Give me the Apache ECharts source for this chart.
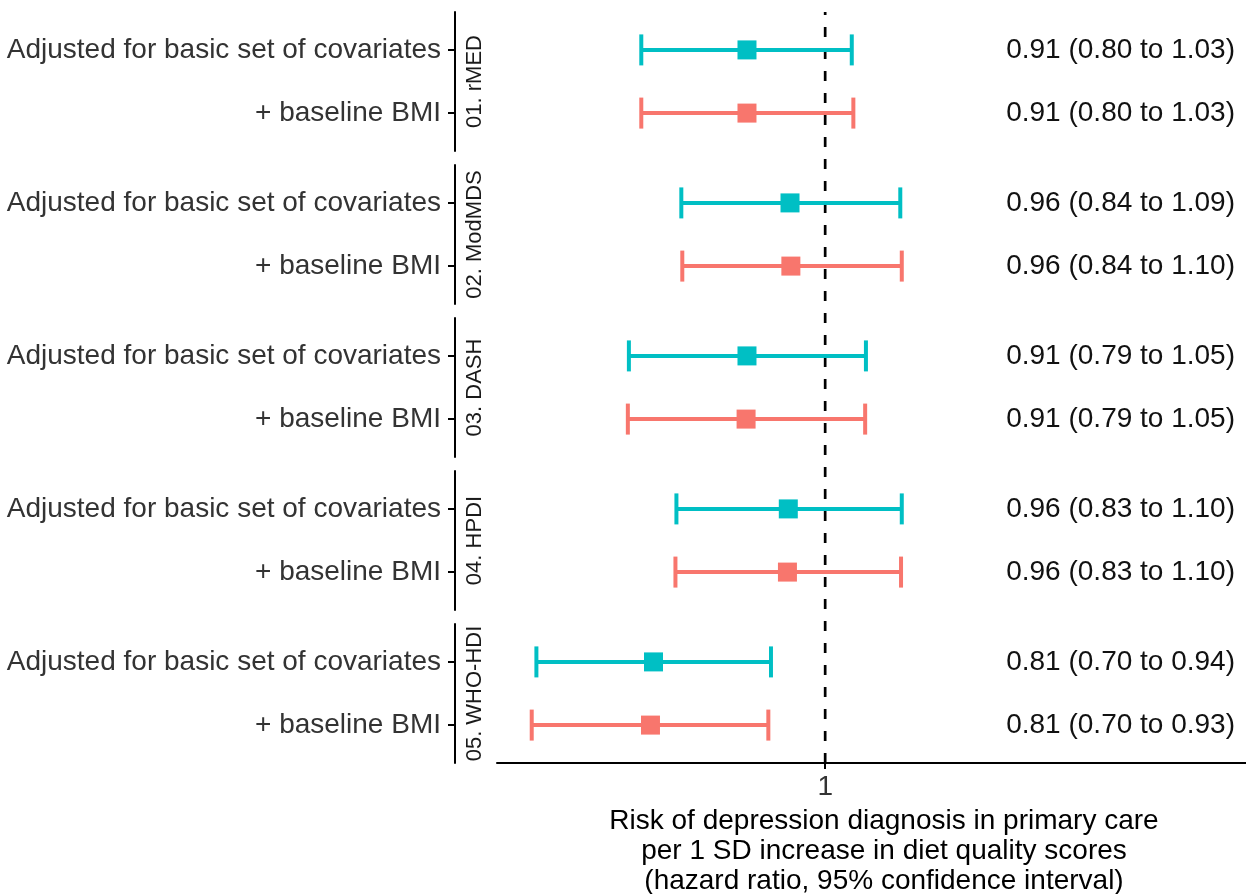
<!DOCTYPE html>
<html>
<head>
<meta charset="utf-8">
<script src="https://cdn.jsdelivr.net/npm/echarts@6/dist/echarts.min.js"></script>
<style>html,body{margin:0;padding:0;background:#fff;}#chart{width:1246px;height:894px;}</style>
</head>
<body>
<div id="chart"></div>
<script>
const facets = ['01. rMED', '02. ModMDS', '03. DASH', '04. HPDI', '05. WHO-HDI'];
const rowLabels = ['Adjusted for basic set of covariates', '+ baseline BMI'];
const hrAdjusted = [0.909, 0.958, 0.909, 0.956, 0.811];
const loAdjusted = [0.799, 0.839, 0.787, 0.834, 0.703];
const hiAdjusted = [1.033, 1.096, 1.051, 1.098, 0.936];
const hrBmi = [0.909, 0.959, 0.908, 0.955, 0.808];
const loBmi = [0.799, 0.840, 0.786, 0.833, 0.699];
const hiBmi = [1.035, 1.098, 1.050, 1.097, 0.933];
const textAdjusted = ['0.91 (0.80 to 1.03)', '0.96 (0.84 to 1.09)', '0.91 (0.79 to 1.05)', '0.96 (0.83 to 1.10)', '0.81 (0.70 to 0.94)'];
const textBmi = ['0.91 (0.80 to 1.03)', '0.96 (0.84 to 1.10)', '0.91 (0.79 to 1.05)', '0.96 (0.83 to 1.10)', '0.81 (0.70 to 0.93)'];
const xTicks = [1];
const refValue = 1;
const xTitle = 'Risk of depression diagnosis in primary care\nper 1 SD increase in diet quality scores\n(hazard ratio, 95% confidence interval)';

const COLORS = ['#00BFC4', '#F8766D'];
const FONT = 'Liberation Sans, Arial, sans-serif';
const XMIN = 0.67, XMAX = 1.723;
const GRID_LEFT = 497, GRID_WIDTH = 774, TOP0 = 12, STEP = 153, H = 139;

const chart = echarts.init(document.getElementById('chart'), null, {renderer: 'canvas'});

const grids = [], xAxes = [], yAxes = [], series = [];
facets.forEach((f, i) => {
  const last = i === facets.length - 1;
  grids.push({left: GRID_LEFT, top: TOP0 + STEP * i, width: GRID_WIDTH, height: H, containLabel: false, outerBoundsMode: 'none'});
  xAxes.push({
    gridIndex: i, type: 'log', logBase: 10, min: XMIN, max: XMAX,
    axisLine: {show: last, onZero: false, lineStyle: {color: '#000', width: 2}},
    axisTick: {show: last, customValues: xTicks, length: 6, lineStyle: {color: '#000', width: 2}},
    axisLabel: {show: last, customValues: xTicks, formatter: v => String(v), color: '#333', fontSize: 28, fontFamily: FONT, margin: 10},
    splitLine: {show: false},
    name: last ? xTitle : '', nameLocation: 'middle', nameGap: 43,
    nameTextStyle: {color: '#000', fontSize: 28, fontFamily: FONT, lineHeight: 30, align: 'center', verticalAlign: 'top'}
  });
  const base = yAxes.length;
  yAxes.push({
    gridIndex: i, type: 'value', min: -0.6, max: 1.6, inverse: true, position: 'left', offset: 42,
    axisLine: {show: true, onZero: false, lineStyle: {color: '#000', width: 2}},
    axisTick: {show: true, customValues: [0, 1], length: 7, lineStyle: {color: '#000', width: 2}},
    axisLabel: {customValues: [0, 1], formatter: v => rowLabels[v], color: '#333', fontSize: 28, fontFamily: FONT, margin: 14},
    splitLine: {show: false}
  });
  yAxes.push({
    gridIndex: i, type: 'value', min: -0.6, max: 1.6, inverse: true, position: 'right',
    axisLine: {show: false}, axisTick: {show: false}, splitLine: {show: false},
    axisLabel: {inside: true, align: 'right', margin: 36, customValues: [0, 1],
      formatter: v => (v === 0 ? textAdjusted[i] : textBmi[i]), color: '#111', fontSize: 28, fontFamily: FONT}
  });
  // facet strip label
  yAxes.push({
    gridIndex: i, type: 'value', min: -0.6, max: 1.6, inverse: true, position: 'left', offset: 0,
    axisLine: {show: false, onZero: false}, axisTick: {show: false}, axisLabel: {show: false}, splitLine: {show: false},
    name: f, nameLocation: 'middle', nameRotate: 90, nameGap: 11,
    nameTextStyle: {color: '#1a1a1a', fontSize: 22, fontFamily: FONT}
  });
  series.push({
    type: 'custom', xAxisIndex: i, yAxisIndex: base, silent: true, z: 3,
    data: [[loAdjusted[i], hiAdjusted[i], hrAdjusted[i], 0], [loBmi[i], hiBmi[i], hrBmi[i], 1]],
    renderItem: (params, api) => {
      const row = api.value(3);
      const p0 = api.coord([api.value(0), row]);
      const p1 = api.coord([api.value(1), row]);
      const pm = api.coord([api.value(2), row]);
      const c = COLORS[row];
      const cap = 15.5, sq = 19;
      const ls = {stroke: c, lineWidth: 4};
      return {type: 'group', children: [
        {type: 'line', shape: {x1: p0[0], y1: p0[1], x2: p1[0], y2: p1[1]}, style: ls},
        {type: 'line', shape: {x1: p0[0], y1: p0[1] - cap, x2: p0[0], y2: p0[1] + cap}, style: ls},
        {type: 'line', shape: {x1: p1[0], y1: p1[1] - cap, x2: p1[0], y2: p1[1] + cap}, style: ls},
        {type: 'rect', shape: {x: pm[0] - sq / 2, y: pm[1] - sq / 2, width: sq, height: sq}, style: {fill: c}}
      ]};
    }
  });
});

// reference line grid spanning all facets
const gi = facets.length;
grids.push({left: GRID_LEFT, top: TOP0, width: GRID_WIDTH, height: STEP * (facets.length - 1) + H, containLabel: false, outerBoundsMode: 'none'});
xAxes.push({gridIndex: gi, type: 'log', logBase: 10, min: XMIN, max: XMAX, show: false});
yAxes.push({gridIndex: gi, type: 'value', min: 0, max: 1, show: false});
series.push({
  type: 'line', xAxisIndex: gi, yAxisIndex: yAxes.length - 1, silent: true, symbol: 'none',
  data: [[refValue, 0], [refValue, 1]],
  lineStyle: {color: '#000', width: 2.7, type: [10, 12]}, z: 1
});

chart.setOption({
  animation: false,
  backgroundColor: '#fff',
  grid: grids, xAxis: xAxes, yAxis: yAxes, series: series
});
</script>
</body>
</html>
